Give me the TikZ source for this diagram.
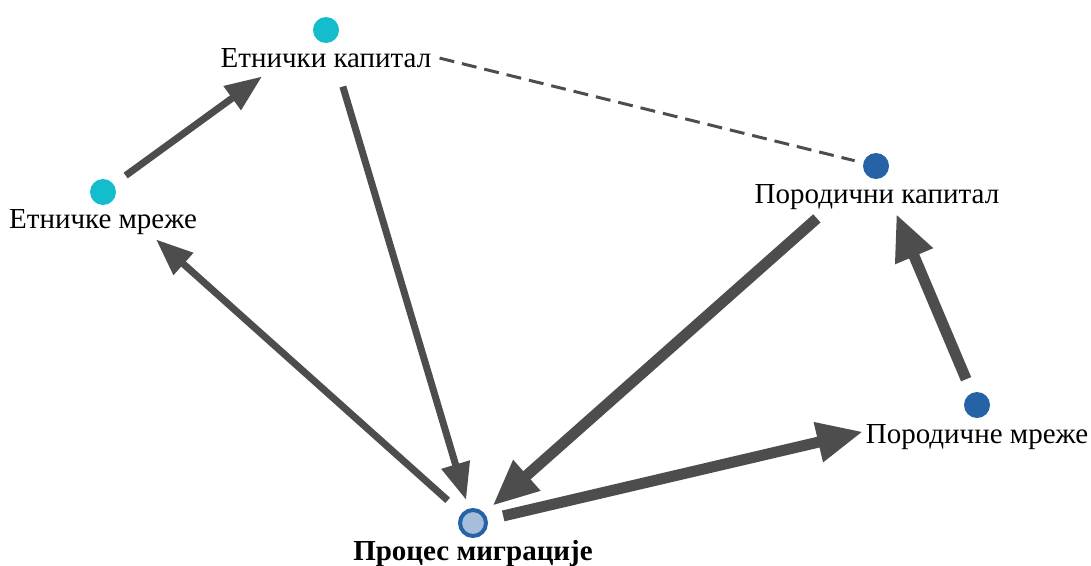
\documentclass[tikz,border=0pt]{standalone}
\usepackage{fontspec}
\setmainfont{Liberation Serif}
\usetikzlibrary{arrows.meta}

\definecolor{edgegray}{RGB}{77,77,77}
\definecolor{ethcyan}{RGB}{20,189,204}
\definecolor{famblue}{RGB}{37,99,166}
\definecolor{procfill}{RGB}{166,190,219}

\tikzset{
  dotnode/.style={circle, inner sep=0pt, minimum size=26pt, draw=none},
  ethdot/.style={dotnode, fill=ethcyan},
  famdot/.style={dotnode, fill=famblue},
  procdot/.style={circle, inner sep=0pt, minimum size=26pt, fill=procfill, draw=famblue, line width=4pt},
  lbl/.style={anchor=base, inner sep=0pt, font=\fontsize{29}{32}\selectfont},
  thinedge/.style={draw=edgegray, line width=7pt, -{Triangle[length=37pt,width=28pt]}},
  thickedge/.style={draw=edgegray, line width=11pt, -{Triangle[length=46pt,width=38pt]}},
  dashedge/.style={draw=edgegray, line width=3pt, dash pattern=on 15pt off 8pt}
}

\begin{document}
\begin{tikzpicture}[x=1pt, y=-1pt]
  \useasboundingbox (0,0) rectangle (1091,565);

  % nodes (dots)
  \node[ethdot]  (ek) at (326,30)  {};
  \node[ethdot]  (em) at (103,192) {};
  \node[famdot]  (fk) at (876,166) {};
  \node[famdot]  (fm) at (977,405) {};
  \node[procdot] (pm) at (473,523) {};

  % labels under the dots
  \node[lbl] (ekl) at (326,67)  {Етнички капитал};
  \node[lbl] (eml) at (103,228) {Етничке мреже};
  \node[lbl] (fkl) at (877,203) {Породични капитал};
  \node[lbl] (fml) at (977,443) {Породичне мреже};
  \node[lbl, font=\fontsize{29}{32}\selectfont\bfseries] (pml) at (473,560) {Процес миграције};

  % connectors
  \draw[dashedge, shorten <=117pt, shorten >=22pt] (ek.center) -- (fk.center);
  \draw[thinedge, shorten <=28pt, shorten >=79pt] (em.center) -- (ek.center);
  \draw[thinedge, shorten <=59pt, shorten >=24pt] (ek.center) -- (pm.center);
  \draw[thinedge, shorten <=34pt, shorten >=71pt] (pm.center) -- (em.center);
  \draw[thickedge, shorten <=79pt, shorten >=26pt] (fk.center) -- (pm.center);
  \draw[thickedge, shorten <=31pt, shorten >=117pt] (pm.center) -- (fm.center);
  \draw[thickedge, shorten <=28pt, shorten >=52pt] (fm.center) -- (fk.center);
\end{tikzpicture}
\end{document}
